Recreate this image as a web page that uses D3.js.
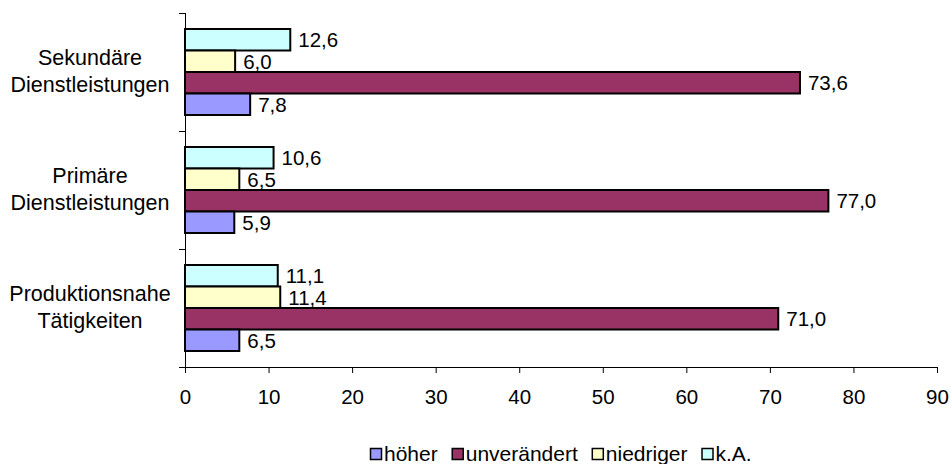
<!DOCTYPE html>
<html>
<head>
<meta charset="utf-8">
<script src="https://cdn.jsdelivr.net/npm/d3@7/dist/d3.min.js"></script>
<style>
  html, body { margin: 0; padding: 0; background: #fff; }
  svg { display: block; }
  text { font-family: "Liberation Sans", Arial, sans-serif; fill: #000; }
</style>
</head>
<body>
<svg id="chart" width="951" height="464"></svg>
<script>
// Data
const categories = [["Sekundäre", "Dienstleistungen"], ["Primäre", "Dienstleistungen"], ["Produktionsnahe", "Tätigkeiten"]];
const categoryKeys = ["Sekundäre Dienstleistungen", "Primäre Dienstleistungen", "Produktionsnahe Tätigkeiten"];
const seriesNames = ["höher", "unverändert", "niedriger", "k.A."];
const seriesColors = ["#9999FF", "#993366", "#FFFFCC", "#CCFFFF"];
const hoeher       = [7.8, 5.9, 6.5];
const unveraendert = [73.6, 77.0, 71.0];
const niedriger    = [6.0, 6.5, 11.4];
const kA           = [12.6, 10.6, 11.1];
const seriesValues = [hoeher, unveraendert, niedriger, kA];
const xTicks = [0, 10, 20, 30, 40, 50, 60, 70, 80, 90];

(function () {
const svg = d3.select("#chart");
const mLeft = 185, mRight = 937, mTop = 13, mBottom = 367;
const fontSize = 20.5;
const catFont = 21.5;
const legFont = 21;

const x = d3.scaleLinear().domain([0, 90]).range([mLeft, mRight]);
const y = d3.scaleBand().domain(categoryKeys).range([mTop, mBottom]).padding(0);
// series order top to bottom inside group: k.A., niedriger, unverändert, höher
const inner = d3.scaleBand().domain([3, 2, 1, 0]).range([16, y.bandwidth() - 16]).padding(0);

const fmt = v => v.toFixed(1).replace(".", ",");

// bars
categoryKeys.forEach((cat, ci) => {
  const g = svg.append("g").attr("transform", `translate(0,${y(cat)})`);
  [3, 2, 1, 0].forEach(si => {
    const v = seriesValues[si][ci];
    g.append("rect")
      .attr("x", x(0))
      .attr("y", inner(si))
      .attr("width", x(v) - x(0))
      .attr("height", inner.bandwidth())
      .attr("fill", seriesColors[si])
      .attr("stroke", "#000")
      .attr("stroke-width", 2);
    g.append("text")
      .attr("x", x(v) + 8)
      .attr("y", inner(si) + inner.bandwidth() / 2 + 7.5)
      .attr("font-size", fontSize)
      .text(fmt(v));
  });
});

// x axis
const xAxis = d3.axisBottom(x).tickValues(xTicks).tickSize(6).tickSizeOuter(0).tickPadding(16).tickFormat(d3.format("d"));
const gx = svg.append("g").attr("transform", `translate(0,${mBottom})`).call(xAxis);
gx.select(".domain").attr("stroke", "#000").attr("stroke-width", 1);
gx.selectAll(".tick line").attr("stroke", "#000");
gx.selectAll(".tick text").attr("font-size", fontSize).attr("font-family", "Liberation Sans, Arial, sans-serif").attr("fill", "#000");

// y axis
svg.append("line").attr("x1", mLeft + 0.5).attr("x2", mLeft + 0.5).attr("y1", mTop).attr("y2", mBottom).attr("stroke", "#000");
const yTickPos = categoryKeys.map(c => y(c)).concat([mBottom]);
yTickPos.forEach(p => {
  svg.append("line").attr("x1", mLeft - 6).attr("x2", mLeft).attr("y1", Math.round(p) + 0.5).attr("y2", Math.round(p) + 0.5).attr("stroke", "#000");
});

// category labels
categoryKeys.forEach((cat, ci) => {
  const c = y(cat) + y.bandwidth() / 2;
  const t = svg.append("text").attr("text-anchor", "middle").attr("font-size", catFont);
  t.append("tspan").attr("x", 90).attr("y", c - 7).text(categories[ci][0]);
  t.append("tspan").attr("x", 90).attr("y", c + 20).text(categories[ci][1]);
});

// legend
const lg = svg.append("g");
let cx = 0;
seriesNames.forEach((name, i) => {
  const item = lg.append("g").attr("transform", `translate(${cx},0)`);
  item.append("rect").attr("x", 0.5).attr("y", 0.5).attr("width", 11).attr("height", 11)
    .attr("fill", seriesColors[i]).attr("stroke", "#000").attr("stroke-width", 1.5);
  const t = item.append("text").attr("x", 14).attr("y", 12.5).attr("font-size", legFont).text(name);
  cx += 14 + t.node().getComputedTextLength() + 14;
});
const totalW = cx - 14;
lg.attr("transform", `translate(${Math.round((mLeft + mRight) / 2 - totalW / 2)},448)`);
})();
</script>
</body>
</html>
